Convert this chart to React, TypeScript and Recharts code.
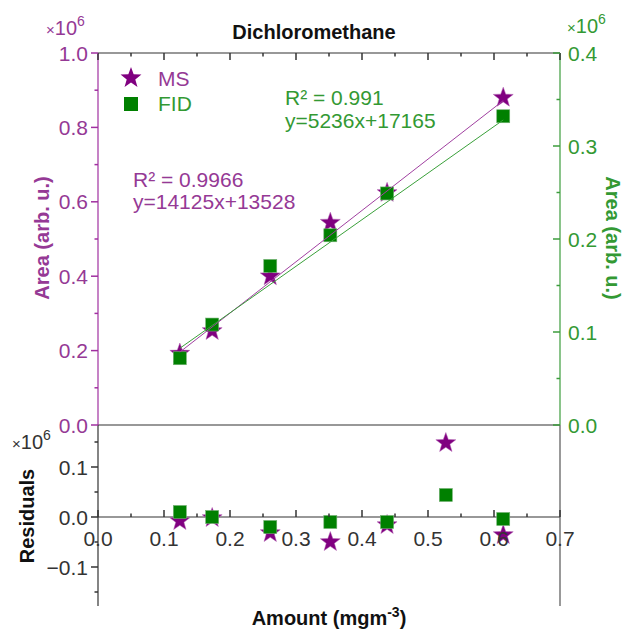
import React from 'react';
import { ComposedChart, Scatter, XAxis, YAxis, ReferenceLine } from 'recharts';

// calibration points (amount in mg m^-3, area in arb. u.)
const amount = [0.124, 0.173, 0.261, 0.352, 0.438, 0.614];
const msArea = [192000, 253000, 400000, 544000, 624000, 880000];
const fidArea = [71800, 108000, 171000, 204000, 249000, 332000];

// linear fits, drawn between first and last calibration point
const fitAmount = [0.124, 0.614];
const msFit = [196000, 872000];
const fidFit = [82500, 328000];

// residuals
const residualAmount = [0.124, 0.173, 0.261, 0.352, 0.438, 0.527, 0.614];
const msResidual = [-8000, -2000, -32000, -50000, -16000, 148000, -36000];
const fidResidual = [10000, 0, -20000, -10000, -10000, 44000, -4000];

const xTicks = [0, 0.05, 0.1, 0.15, 0.2, 0.25, 0.3, 0.35, 0.4, 0.45, 0.5, 0.55, 0.6, 0.65, 0.7];
const msTicks = [0, 100000, 200000, 300000, 400000, 500000, 600000, 700000, 800000, 900000, 1000000];
const fidTicks = [0, 50000, 100000, 150000, 200000, 250000, 300000, 350000, 400000];
const residualTicks = [-150000, -100000, -50000, 0, 50000, 100000, 150000];

const RES_MIN = -178000;
const RES_MAX = 184000;

const W = 624;
const H = 629;
const LEFT = 98;
const RIGHT = 560;
const TOP = 53;
const MID = 425;
const BOTTOM = 606;
const AX = 1; // thickness reserved for each axis

const PURPLE = '#800080';
const PURPLE_TXT = '#953995';
const PURPLE_AX = '#a030a0';
const GREEN = '#008000';
const GREEN_TXT = '#339933';
const GREEN_AX = '#3c9c3c';
const DARK = '#333333';
const FONT = '"Liberation Sans", Arial, sans-serif';
const MAJOR = 7;
const MINOR = 3.5;

const toPoints = (xs: number[], ys: number[]) => xs.map((x, i) => ({ x, y: ys[i] }));

const msPoints = toPoints(amount, msArea);
const fidPoints = toPoints(amount, fidArea);
const msFitPoints = toPoints(fitAmount, msFit);
const fidFitPoints = toPoints(fitAmount, fidFit);
const msResPoints = toPoints(residualAmount, msResidual);
const fidResPoints = toPoints(residualAmount, fidResidual);

const isMajor = (v: number, step: number) => Math.abs(v / step - Math.round(v / step)) < 1e-6;

const starPoints = (cx: number, cy: number, R: number, r: number) => {
    const pts: string[] = [];
    for (let i = 0; i < 10; i++) {
        const rad = i % 2 === 0 ? R : r;
        const a = -Math.PI / 2 + (i * Math.PI) / 5;
        pts.push(`${cx + rad * Math.cos(a)},${cy + rad * Math.sin(a)}`);
    }
    return pts.join(' ');
};

const StarShape = (props: any) => {
    const { cx, cy } = props;
    if (cx == null || cy == null) return <g />;
    return <polygon points={starPoints(cx, cy, 10.5, 4.3)} fill={PURPLE} stroke="#b060b0" strokeWidth={0.5} />;
};

const SquareShape = (props: any) => {
    const { cx, cy } = props;
    if (cx == null || cy == null) return <g />;
    return <rect x={cx - 6.5} y={cy - 6.5} width={13} height={13} fill={GREEN} stroke="#70b070" strokeWidth={0.6} />;
};

const NoShape = () => <g />;

const fmt = (v: number) => {
    const s = (Math.abs(v) / 1e6).toFixed(1);
    return v < 0 ? `\u2212${s}` : s;
};

// tick drawers: tickSize/tickMargin are 0, so x/y is the axis line position
const topTick = (p: any) => {
    const major = isMajor(p.payload.value, 0.1);
    return (
        <g>
            <path d={`M${p.x},${p.y}v${major ? MAJOR : MINOR}`} stroke={DARK} strokeWidth={1.5} fill="none" />
        </g>
    );
};

const leftTick = (color: string, tickColor: string, step: number) => (p: any) => {
    const major = isMajor(p.payload.value, step);
    return (
        <g>
            <path d={`M${p.x},${p.y}h${-(major ? MAJOR : MINOR)}`} stroke={tickColor} strokeWidth={1.5} fill="none" />
            {major && (
                <text x={p.x - 10} y={p.y} dy="0.36em" textAnchor="end" fill={color} fontSize={21} fontFamily={FONT}>
                    {fmt(p.payload.value)}
                </text>
            )}
        </g>
    );
};

const rightTick = (p: any) => {
    const major = isMajor(p.payload.value, 100000);
    return (
        <g>
            <path d={`M${p.x},${p.y}h${-(major ? MAJOR : MINOR)}`} stroke={GREEN_AX} strokeWidth={1.5} fill="none" />
            {major && (
                <text x={p.x + 8} y={p.y} dy="0.36em" textAnchor="start" fill={GREEN_TXT} fontSize={21} fontFamily={FONT}>
                    {fmt(p.payload.value)}
                </text>
            )}
        </g>
    );
};

// x axis of residual panel sits on the zero line
const zeroTick = (p: any) => {
    const major = isMajor(p.payload.value, 0.1);
    const zeroY = p.y - ((0 - RES_MIN) / (RES_MAX - RES_MIN)) * (BOTTOM - MID);
    return (
        <g>
            <path d={`M${p.x},${zeroY}v${-(major ? MAJOR : MINOR)}`} stroke={DARK} strokeWidth={1.5} fill="none" />
            {major && (
                <text x={p.x} y={zeroY + 21} dy="0.36em" textAnchor="middle" fill={DARK} fontSize={21} fontFamily={FONT}>
                    {p.payload.value.toFixed(1)}
                </text>
            )}
        </g>
    );
};

const Times6 = ({ x, y, color }: { x: number; y: number; color: string }) => (
    <text x={x} y={y} fill={color} fontSize={20} fontFamily={FONT}>
        <tspan fontSize={15}>×</tspan>10<tspan dy={-9} fontSize={14}>6</tspan>
    </text>
);

export default function App() {
    return (
        <div style={{ position: 'absolute', left: 0, top: 0, width: W, height: H, background: '#fff' }}>
            {/* residual panel */}
            <div style={{ position: 'absolute', left: 0, top: 0 }}>
                <ComposedChart width={W} height={H}
                    margin={{ top: MID - AX, right: W - RIGHT - AX, bottom: H - BOTTOM - AX, left: LEFT - AX }}>
                    <XAxis xAxisId="top" orientation="top" type="number" dataKey="x" domain={[0, 0.7]} ticks={xTicks}
                        interval={0} height={AX} tickSize={0} tickMargin={0} tick={topTick}
                        axisLine={{ stroke: DARK, strokeWidth: 1.2 }} />
                    <XAxis xAxisId="b" orientation="bottom" type="number" dataKey="x" domain={[0, 0.7]} ticks={xTicks}
                        interval={0} height={AX} tickSize={0} tickMargin={0} tick={zeroTick} axisLine={false} />
                    <YAxis yAxisId="res" type="number" dataKey="y" domain={[RES_MIN, RES_MAX]} ticks={residualTicks}
                        interval={0} width={AX} tickSize={0} tickMargin={0} tick={leftTick(DARK, DARK, 100000)}
                        axisLine={{ stroke: DARK, strokeWidth: 1.2 }} />
                    <YAxis yAxisId="edge" orientation="right" type="number" domain={[0, 1]} width={AX} tick={false}
                        tickLine={false} axisLine={{ stroke: '#555', strokeWidth: 1.2 }} />
                    <ReferenceLine xAxisId="b" yAxisId="res" y={0} stroke={DARK} strokeWidth={1.2} />
                    <Scatter xAxisId="b" yAxisId="res" data={msResPoints} shape={StarShape} isAnimationActive={false} />
                    <Scatter xAxisId="b" yAxisId="res" data={fidResPoints} shape={SquareShape} isAnimationActive={false} />
                </ComposedChart>
            </div>

            {/* calibration panel */}
            <div style={{ position: 'absolute', left: 0, top: 0 }}>
                <ComposedChart width={W} height={H}
                    margin={{ top: TOP - AX, right: W - RIGHT - AX, bottom: H - MID, left: LEFT - AX }}>
                    <XAxis orientation="top" type="number" dataKey="x" domain={[0, 0.7]} ticks={xTicks} interval={0}
                        height={AX} tickSize={0} tickMargin={0} tick={topTick}
                        axisLine={{ stroke: DARK, strokeWidth: 1.2 }} />
                    <YAxis yAxisId="ms" type="number" dataKey="y" domain={[0, 1000000]} ticks={msTicks} interval={0}
                        width={AX} tickSize={0} tickMargin={0} tick={leftTick(PURPLE_TXT, PURPLE_AX, 200000)}
                        axisLine={{ stroke: PURPLE_AX, strokeWidth: 1.2 }} />
                    <YAxis yAxisId="fid" orientation="right" type="number" dataKey="y" domain={[0, 400000]} ticks={fidTicks}
                        interval={0} width={AX} tickSize={0} tickMargin={0} tick={rightTick}
                        axisLine={{ stroke: GREEN_AX, strokeWidth: 1.2 }} />
                    <Scatter yAxisId="ms" data={msPoints} shape={StarShape} isAnimationActive={false} />
                    <Scatter yAxisId="fid" data={fidPoints} shape={SquareShape} isAnimationActive={false} />
                    <Scatter yAxisId="ms" data={msFitPoints} shape={NoShape} line={{ stroke: '#a040a0', strokeWidth: 1 }}
                        isAnimationActive={false} />
                    <Scatter yAxisId="fid" data={fidFitPoints} shape={NoShape} line={{ stroke: '#3aa03a', strokeWidth: 1 }}
                        isAnimationActive={false} />
                </ComposedChart>
            </div>

            {/* titles, labels, legend, fit annotations */}
            <svg width={W} height={H} style={{ position: 'absolute', left: 0, top: 0, pointerEvents: 'none' }}>
                <text x={314} y={39} textAnchor="middle" fontSize={20} fontWeight="bold" fill="#111" fontFamily={FONT}>
                    Dichloromethane
                </text>
                <Times6 x={46} y={35} color={PURPLE_TXT} />
                <Times6 x={567} y={33} color={GREEN_TXT} />
                <Times6 x={12} y={449} color={DARK} />

                <text transform="translate(49,238) rotate(-90)" textAnchor="middle" fontSize={20} fontWeight="bold"
                    fill={PURPLE_TXT} fontFamily={FONT}>Area (arb. u.)</text>
                <text transform="translate(606,238) rotate(90)" textAnchor="middle" fontSize={20} fontWeight="bold"
                    fill={GREEN_TXT} fontFamily={FONT}>Area (arb. u.)</text>
                <text transform="translate(34,516) rotate(-90)" textAnchor="middle" fontSize={20} fontWeight="bold"
                    fill="#111" fontFamily={FONT}>Residuals</text>
                <text x={329} y={625} textAnchor="middle" fontSize={20} fontWeight="bold" fill="#111" fontFamily={FONT}>
                    Amount (mgm<tspan dy={-8} fontSize={14}>-3</tspan><tspan dy={8}>)</tspan>
                </text>

                <polygon points={starPoints(131, 78, 11, 4.5)} fill={PURPLE} />
                <text x={158} y={86} fontSize={21} fill={PURPLE_TXT} fontFamily={FONT}>MS</text>
                <rect x={124} y={97} width={14} height={14} fill={GREEN} />
                <text x={158} y={111} fontSize={21} fill={GREEN_TXT} fontFamily={FONT}>FID</text>

                <text x={285} y={105} fontSize={21} fill={GREEN_TXT} fontFamily={FONT}>R² = 0.991</text>
                <text x={285} y={128} fontSize={21} fill={GREEN_TXT} fontFamily={FONT}>y=5236x+17165</text>
                <text x={133} y={187} fontSize={21} fill={PURPLE_TXT} fontFamily={FONT}>R² = 0.9966</text>
                <text x={133} y={209} fontSize={21} fill={PURPLE_TXT} fontFamily={FONT}>y=14125x+13528</text>
            </svg>
        </div>
    );
}
